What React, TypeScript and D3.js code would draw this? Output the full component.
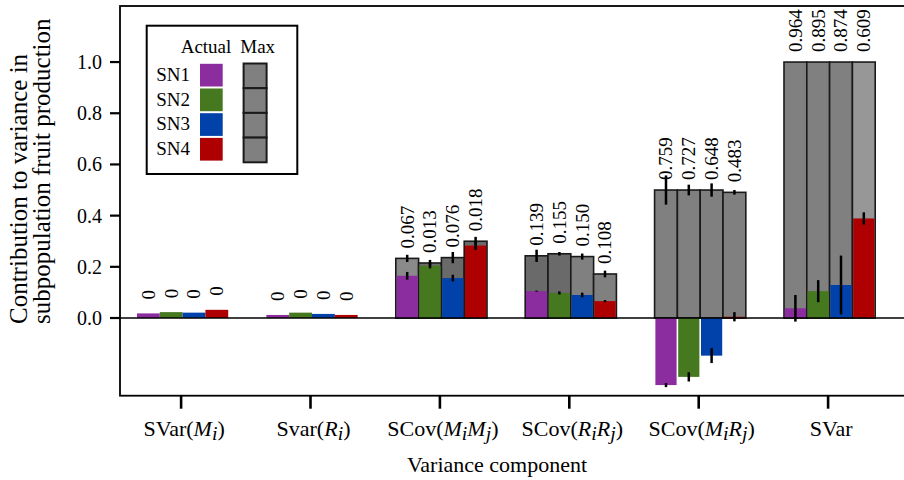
import React from "react";
import * as d3 from "d3";

// ---------- data ----------
const categories = ["SVar(M_i)", "Svar(R_i)", "SCov(M_iM_j)", "SCov(R_iR_j)", "SCov(M_iR_j)", "SVar"];
const seriesNames = ["SN1", "SN2", "SN3", "SN4"];

const actualValues = [
  [0.018, 0.023, 0.021, 0.032],
  [0.012, 0.021, 0.016, 0.012],
  [0.165, 0.204, 0.156, 0.283],
  [0.105, 0.098, 0.09, 0.066],
  [-0.262, -0.23, -0.147, 0.005],
  [0.038, 0.105, 0.129, 0.389],
];
const actualErrors = [
  [0, 0, 0, 0],
  [0, 0, 0, 0],
  [0.015, 0.01, 0.013, 0.017],
  [0.002, 0.006, 0.009, 0.004],
  [0.008, 0.018, 0.029, 0.018],
  [0.052, 0.043, 0.115, 0.024],
];
const maxValues = [
  [0, 0, 0, 0],
  [0, 0, 0, 0],
  [0.233, 0.215, 0.236, 0.3],
  [0.243, 0.251, 0.24, 0.172],
  [0.5, 0.5, 0.5, 0.491],
  [1, 1, 1, 1],
];
const maxErrors = [
  [0, 0, 0, 0],
  [0, 0, 0, 0],
  [0.014, 0.012, 0.022, 0.017],
  [0.024, 0.007, 0.012, 0.013],
  [0.057, 0.021, 0.026, 0.009],
  [0, 0, 0, 0],
];
const valueLabels = [
  ["0", "0", "0", "0"],
  ["0", "0", "0", "0"],
  ["0.067", "0.013", "0.076", "0.018"],
  ["0.139", "0.155", "0.150", "0.108"],
  ["0.759", "0.727", "0.648", "0.483"],
  ["0.964", "0.895", "0.874", "0.609"],
];
const yTicks = [0, 0.2, 0.4, 0.6, 0.8, 1.0];
const yTitleLines = ["Contribution to variance in", "subpopulation fruit production"];
const xTitle = "Variance component";
const legendHeaders = ["Actual", "Max"];

// ---------- styles ----------
const seriesColors = ["#8B2C9F", "#46781F", "#0042A9", "#AE0000"];
const LIGHT = "#8a8a8a";
const DARK = "#6a6a6a";
const MID = "#808080";
const maxShades = [
  [MID, MID, MID, MID],
  [MID, MID, MID, MID],
  [LIGHT, DARK, DARK, DARK],
  [DARK, DARK, MID, MID],
  [MID, MID, MID, MID],
  [MID, MID, MID, "#979797"],
];
const FONT = "'Liberation Serif', 'Times New Roman', Times, serif";

function CategoryLabel({ text, x, y }: { text: string; x: number; y: number }) {
  const open = text.indexOf("(");
  const parts: React.ReactNode[] = [];
  if (open < 0) {
    parts.push(<tspan key="p">{text}</tspan>);
  } else {
    parts.push(<tspan key="p">{text.slice(0, open + 1)}</tspan>);
    const inner = text.slice(open + 1, text.lastIndexOf(")"));
    const re = /([A-Za-z])_([a-z])/g;
    let m: RegExpExecArray | null;
    let k = 0;
    let shifted = 0;
    while ((m = re.exec(inner)) !== null) {
      parts.push(
        <tspan key={"a" + k} fontStyle="italic" dy={-shifted}>
          {m[1]}
        </tspan>
      );
      parts.push(
        <tspan key={"b" + k} fontStyle="italic" fontSize="0.9em" dy={4}>
          {m[2]}
        </tspan>
      );
      shifted = 4;
      k++;
    }
    parts.push(
      <tspan key="c" dy={-shifted}>
        )
      </tspan>
    );
  }
  return (
    <text x={x} y={y} textAnchor="middle" fontSize={22} fontFamily={FONT} fill="#000">
      {parts}
    </text>
  );
}

export default function App() {
  const W = 904;
  const H = 480;
  const frameLeft = 120;
  const frameTop = 6;
  const frameBottom = 395.7;

  const y = d3.scaleLinear().domain([-0.3035, 1.219]).range([frameBottom, frameTop]);
  const x0 = d3
    .scaleBand<string>()
    .domain(categories)
    .range([117.9, 894.3])
    .paddingInner(0.295)
    .paddingOuter(0.1475);
  const x1 = d3.scaleBand<string>().domain(seriesNames).range([0, x0.bandwidth()]).padding(0);
  const bw = x1.bandwidth();

  const bars: React.ReactNode[] = [];
  const errs: React.ReactNode[] = [];
  const labels: React.ReactNode[] = [];

  categories.forEach((cat, gi) => {
    seriesNames.forEach((sn, si) => {
      const bx = (x0(cat) as number) + (x1(sn) as number);
      const mv = maxValues[gi][si];
      if (mv > 0) {
        bars.push(
          <rect
            key={`m${gi}-${si}`}
            x={bx}
            y={y(mv)}
            width={bw}
            height={y(0) - y(mv)}
            fill={maxShades[gi][si]}
            stroke="#1a1a1a"
            strokeWidth={1.6}
          />
        );
      }
    });
  });
  categories.forEach((cat, gi) => {
    seriesNames.forEach((sn, si) => {
      const bx = (x0(cat) as number) + (x1(sn) as number);
      const cx = bx + bw / 2;
      const mv = maxValues[gi][si];
      const av = actualValues[gi][si];
      const inset = mv > 0 ? 0.8 : 0;
      bars.push(
        <rect
          key={`a${gi}-${si}`}
          x={bx + inset}
          y={Math.min(y(av), y(0))}
          width={bw - 2 * inset}
          height={Math.abs(y(0) - y(av))}
          fill={seriesColors[si]}
        />
      );
      const me = maxErrors[gi][si];
      if (mv > 0 && me > 0) {
        errs.push(
          <line key={`me${gi}-${si}`} x1={cx} x2={cx} y1={y(mv - me)} y2={y(mv + me)} stroke="#000" strokeWidth={2.5} />
        );
      }
      const ae = actualErrors[gi][si];
      if (ae > 0) {
        errs.push(
          <line key={`ae${gi}-${si}`} x1={cx} x2={cx} y1={y(av - ae)} y2={y(av + ae)} stroke="#000" strokeWidth={2.5} />
        );
      }
      const top = Math.max(mv, av, 0);
      const ly = y(top) - (mv > 0 ? 10 : 14);
      labels.push(
        <text
          key={`l${gi}-${si}`}
          transform={`translate(${cx + 6.4},${ly}) rotate(-90)`}
          fontSize={19}
          fontFamily={FONT}
          textAnchor="start"
          fill="#000"
        >
          {valueLabels[gi][si]}
        </text>
      );
    });
  });

  // legend geometry
  const lgX = 146.7;
  const lgY = 25.7;
  const rowPitch = 24.7;
  const rowTop = 63.8;

  return (
    <svg
      width={W}
      height={H}
      style={{ position: "absolute", left: 0, top: 0, background: "#fff" }}
      fontFamily={FONT}
    >
      <rect x={0} y={0} width={W} height={H} fill="#fff" />
      {bars}
      {errs}
      {labels}
      {/* zero line */}
      <line x1={frameLeft} x2={W + 10} y1={y(0)} y2={y(0)} stroke="#000" strokeWidth={1.6} />
      {/* frame */}
      <rect
        x={frameLeft}
        y={frameTop}
        width={W + 20 - frameLeft}
        height={frameBottom - frameTop}
        fill="none"
        stroke="#000"
        strokeWidth={1.8}
      />
      {/* y axis ticks */}
      {yTicks.map((t) => (
        <g key={"yt" + t}>
          <line x1={frameLeft - 10} x2={frameLeft} y1={y(t)} y2={y(t)} stroke="#000" strokeWidth={2.2} />
          <text x={102} y={y(t) + 7} textAnchor="end" fontSize={20} fill="#000">
            {d3.format(".1f")(t)}
          </text>
        </g>
      ))}
      {/* x axis ticks */}
      {categories.map((c) => {
        const cx = (x0(c) as number) + x0.bandwidth() / 2 - 1.5;
        return (
          <g key={"xt" + c}>
            <line x1={cx} x2={cx} y1={frameBottom} y2={frameBottom + 13} stroke="#000" strokeWidth={2.6} />
            <CategoryLabel text={c} x={cx + 3} y={436} />
          </g>
        );
      })}
      {/* axis titles */}
      <text x={497} y={472} textAnchor="middle" fontSize={22} fill="#000">
        {xTitle}
      </text>
      {yTitleLines.map((line, i) => (
        <text
          key={"ytl" + i}
          transform={`translate(${27 + i * 23},324) rotate(-90)`}
          textAnchor="start"
          fontSize={25}
          fill="#000"
        >
          {line}
        </text>
      ))}
      {/* legend */}
      <rect x={lgX} y={lgY} width={150.6} height={148.3} fill="#fff" stroke="#000" strokeWidth={2} />
      <text x={206} y={52.7} textAnchor="middle" fontSize={19} fill="#000">
        {legendHeaders[0]}
      </text>
      <text x={257.7} y={52.7} textAnchor="middle" fontSize={19} fill="#000">
        {legendHeaders[1]}
      </text>
      {seriesNames.map((sn, i) => (
        <g key={"lg" + sn}>
          <text x={190} y={rowTop + i * rowPitch + 17} textAnchor="end" fontSize={19} fill="#000">
            {sn}
          </text>
          <rect x={200} y={rowTop + i * rowPitch} width={22.7} height={22.7} fill={seriesColors[i]} />
          <rect
            x={243.6}
            y={rowTop + i * rowPitch - 0.3}
            width={23}
            height={rowPitch}
            fill={MID}
            stroke="#1a1a1a"
            strokeWidth={2}
          />
        </g>
      ))}
    </svg>
  );
}
